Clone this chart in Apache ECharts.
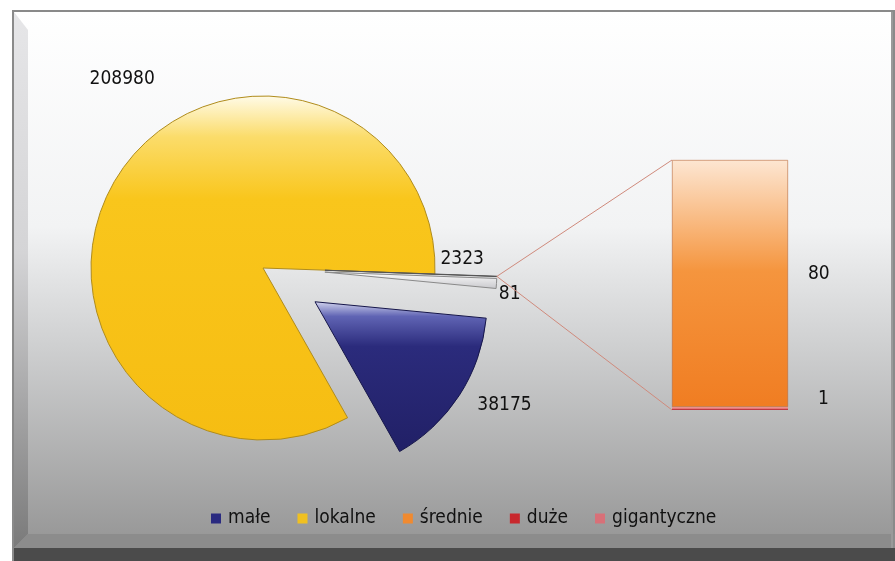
<!DOCTYPE html>
<html>
<head>
<meta charset="utf-8">
<script src="https://cdn.jsdelivr.net/npm/echarts@6/dist/echarts.min.js"></script>
<style>
html, body { margin: 0; padding: 0; background: #fff; }
#chart { width: 895px; height: 561px; }
</style>
</head>
<body>
<div id="chart"></div>
<script>
// dane
var pieNames = ['lokalne', 'małe', 'gigantyczne', 'inne'];
var pieValues = [208980, 38175, 2323, 81];
var barNames = ['duże', 'średnie'];
var barValues = [1, 80];
var legendNames = ['małe', 'lokalne', 'średnie', 'duże', 'gigantyczne'];

var FONT = '"Liberation Sans Narrow", "DejaVu Sans Condensed", "Arial Narrow", sans-serif';

function vgrad(stops) {
    return new echarts.graphic.LinearGradient(0, 0, 0, 1, stops.map(function (s) {
        return { offset: s[0], color: s[1] };
    }));
}

var pieStyles = {
    'lokalne': { color: vgrad([[0, '#fffbe8'], [0.12, '#fbdc6a'], [0.3, '#f9c61c'], [1, '#f6bd12']]), borderColor: '#b08c1c', borderWidth: 1 },
    'małe': { color: vgrad([[0, '#d4d6ee'], [0.1, '#6064b4'], [0.3, '#2b2b7c'], [1, '#212066']]), borderColor: '#16164a', borderWidth: 1 },
    'gigantyczne': { color: vgrad([[0, '#ffffff'], [1, '#c8c8cc']]), borderColor: '#8a8a8a', borderWidth: 1 },
    'inne': { color: '#555', borderColor: '#555', borderWidth: 1 }
};
var barStyles = {
    'duże': { color: vgrad([[0, '#f4a4a4'], [0.5, '#e87878'], [1, '#a81e2a']]) },
    'średnie': { color: vgrad([[0, '#fde6d2'], [0.45, '#f5953e'], [1, '#f07d22']]), borderColor: '#b86a3a', borderWidth: 0.6 }
};
var legendColors = {
    'małe': '#2a2a80', 'lokalne': '#f0c020', 'średnie': '#f08a30', 'duże': '#c8282d', 'gigantyczne': '#d87078'
};

var pieCenter = [263, 268];
var pieRadius = 172;
var pieStart = -2;
var pieOffset = 62;
// przesunięcia etykiet wycinków względem domyślnego położenia
var pieLabelShift = [[49, -97], [8, 6], [-67, -25], [-9, 17]];

var chart = echarts.init(document.getElementById('chart'));

var option = {
    animation: false,
    backgroundColor: '#fff',
    textStyle: { fontFamily: FONT },
    graphic: [
        // rama
        { type: 'rect', z: -10, shape: { x: 12, y: 10, width: 883, height: 551 }, style: { fill: '#8a8a8a' } },
        { type: 'rect', z: -9, shape: { x: 14, y: 12, width: 879, height: 536 },
          style: { fill: vgrad([[0, '#ffffff'], [0.4, '#f2f3f4'], [0.62, '#cfd0d1'], [1, '#959595']]) } },
        { type: 'polygon', z: -8, shape: { points: [[14, 12], [28, 30], [28, 534], [14, 548]] },
          style: { fill: vgrad([[0, '#e6e6e8'], [0.45, '#d4d4d6'], [1, '#7a7a7a']]) } },
        { type: 'polygon', z: -8, shape: { points: [[14, 548], [28, 534], [895, 534], [895, 548]] },
          style: { fill: '#8c8c8c' } },
        { type: 'rect', z: -8, shape: { x: 14, y: 548, width: 881, height: 13 }, style: { fill: '#4b4b4b' } },
        { type: 'rect', z: -8, shape: { x: 891, y: 12, width: 2, height: 536 }, style: { fill: '#9a9a9a' } }
    ],
    legend: {
        top: 504,
        left: 206,
        itemWidth: 10,
        itemHeight: 10,
        itemGap: 27,
        icon: 'rect',
        textStyle: { fontFamily: FONT, fontSize: 19, color: '#111', padding: [0, 0, 0, 2] },
        data: legendNames.map(function (n) {
            return { name: n, itemStyle: { color: legendColors[n], borderWidth: 0 } };
        })
    },
    grid: { left: 672, top: 160, width: 116, height: 250 },
    xAxis: { type: 'category', data: ['x'], show: false },
    yAxis: { type: 'value', min: 0, max: 81, show: false },
    series: [{
        type: 'pie',
        center: pieCenter,
        radius: pieRadius,
        startAngle: pieStart,
        clockwise: false,
        avoidLabelOverlap: false,
        selectedMode: 'multiple',
        selectedOffset: pieOffset,
        emphasis: { scale: false },
        labelLine: { show: false, length: 6, length2: 0 },
        label: {
            show: true,
            position: 'outside',
            formatter: '{c}',
            fontFamily: FONT,
            fontSize: 19,
            color: '#111'
        },
        labelLayout: function (p) {
            var s = pieLabelShift[p.dataIndex];
            return { dx: s[0], dy: s[1] };
        },
        data: pieNames.map(function (n, i) {
            return { name: n, value: pieValues[i], selected: i > 0, itemStyle: pieStyles[n] };
        })
    }].concat(barNames.map(function (n, i) {
        return {
            type: 'bar',
            name: n,
            stack: 'inne',
            barWidth: '100%',
            data: [barValues[i]],
            itemStyle: barStyles[n],
            emphasis: { disabled: true },
            label: {
                show: true,
                position: 'right',
                distance: i === 0 ? 30 : 20,
                offset: [0, -9],
                fontFamily: FONT,
                fontSize: 19,
                color: '#111'
            }
        };
    }))
};

chart.setOption(option);

// linie łączące wycinek "inne" ze słupkiem
var total = pieValues.reduce(function (a, b) { return a + b; }, 0);
var before = pieValues.slice(0, 3).reduce(function (a, b) { return a + b; }, 0);
var mid = (pieStart + (before + pieValues[3] / 2) / total * 360) * Math.PI / 180;
var tip = [pieCenter[0] + (pieRadius + pieOffset) * Math.cos(mid), pieCenter[1] - (pieRadius + pieOffset) * Math.sin(mid)];
var rect = chart.getModel().getComponent('grid', 0).coordinateSystem.getRect();
var yTop = chart.convertToPixel({ yAxisIndex: 0 }, barValues[0] + barValues[1]);
var yBot = chart.convertToPixel({ yAxisIndex: 0 }, 0);
[yTop, yBot].forEach(function (y) {
    chart.getZr().add(new echarts.graphic.Line({
        z: 100,
        shape: { x1: tip[0], y1: tip[1], x2: rect.x, y2: y },
        style: { stroke: '#d08a7c', lineWidth: 1 }
    }));
});
</script>
</body>
</html>
